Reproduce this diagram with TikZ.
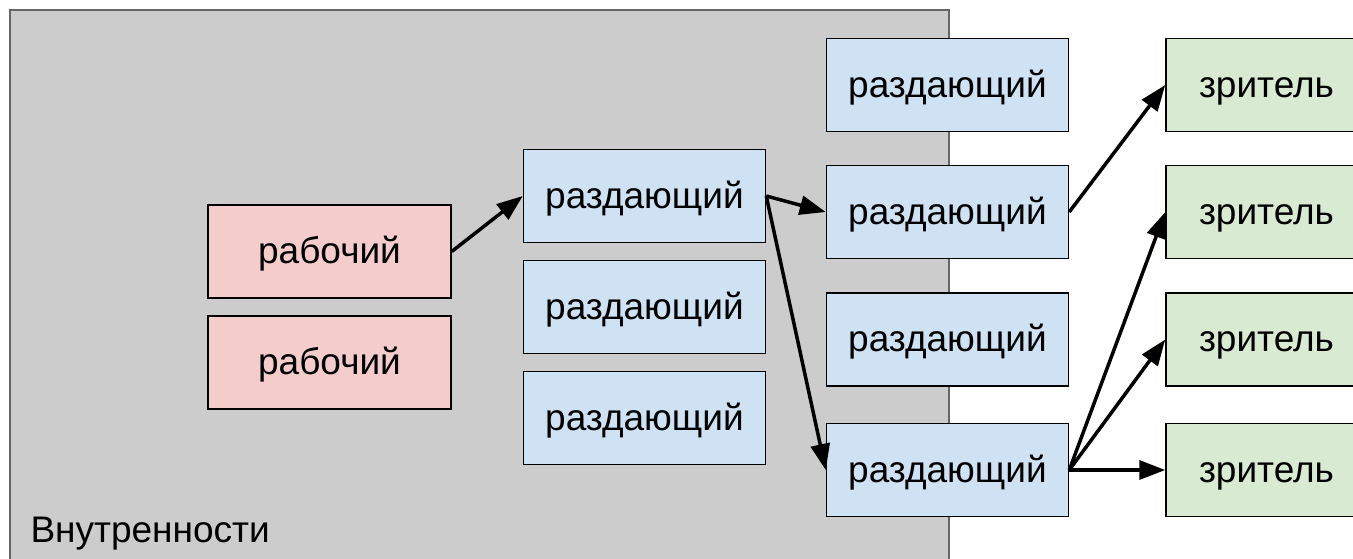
\documentclass[tikz,border=0pt]{standalone}
\usepackage{fontspec}
\setmainfont{Liberation Sans}
\usepackage{tikz}
\usetikzlibrary{arrows.meta}
\definecolor{workerfill}{HTML}{F4CCCC}
\definecolor{relayfill}{HTML}{CFE2F3}
\definecolor{viewerfill}{HTML}{D9EAD3}
\definecolor{insidefill}{HTML}{CCCCCC}
\definecolor{insideline}{HTML}{666666}

\begin{document}
\begin{tikzpicture}[x=1pt,y=-1pt,>={Triangle[length=26pt,width=19pt]}]
				\tikzstyle{box}=[draw=black,line width=1.5pt,inner sep=0pt,minimum height=93pt,text height=24pt,text depth=0pt,font=\fontsize{37}{41}\selectfont]
				\tikzstyle{worker}=[box,fill=workerfill,minimum width=243pt]
				\tikzstyle{relay}=[box,fill=relayfill,minimum width=242pt]
				\tikzstyle{viewer}=[box,fill=viewerfill,minimum width=201pt]
				\tikzstyle{link}=[->,line width=3.5pt]
				\useasboundingbox (0,0) rectangle (1353,558);
				\clip (0,0) rectangle (1353,558);
				\draw[fill=insidefill,draw=insideline,line width=2pt] (10,10) rectangle (949,600);
				\node[anchor=base west,font=\fontsize{37}{41}\selectfont](inside) at (27,542) {Внутренности};
				\node[worker](r1) at (329.5,251.5) {рабочий};
				\node[worker](r2) at (329.5,362.5) {рабочий};
				\node[relay](s1) at (644.5,196) {раздающий};
				\node[relay](s2) at (644.5,307) {раздающий};
				\node[relay](s3) at (644.5,418) {раздающий};
				\node[relay](s4) at (947.5,85) {раздающий};
				\node[relay](s5) at (947.5,212) {раздающий};
				\node[relay](s6) at (947.5,339.5) {раздающий};
				\node[relay](s7) at (947.5,470) {раздающий};
				\node[viewer](z1) at (1266.5,85) {зритель};
				\node[viewer](z2) at (1266.5,212) {зритель};
				\node[viewer](z3) at (1266.5,339.5) {зритель};
				\node[viewer](z4) at (1266.5,470) {зритель};
				\draw[link] (r1.east) to (s1.west);
				\draw[link] (s1.east) to (s5.west);
				\draw[link] (s1.east) to (s7.west);
				\draw[link] (s5.east) to (z1.west);
				\draw[link] (s7.east) to (z2.west);
				\draw[link] (s7.east) to (z3.west);
				\draw[link] (s7.east) to (z4.west);
			\end{tikzpicture}
\end{document}
